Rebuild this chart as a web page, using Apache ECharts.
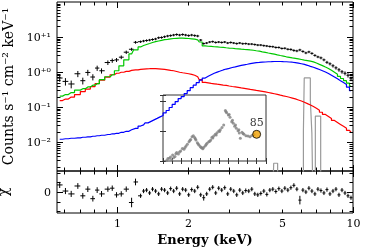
<!DOCTYPE html>
<html><head><meta charset="utf-8">
<script src="https://cdn.jsdelivr.net/npm/echarts@6/dist/echarts.min.js"></script>
<style>html,body{margin:0;padding:0;background:#fff}#c{width:366px;height:251px}</style>
</head><body><div id="c"></div>
<script>
// ---------- data (keV, counts s^-1 cm^-2 keV^-1) ----------
const energy = [0.575,0.608,0.643,0.686,0.720,0.756,0.794,0.828,0.864,0.919,0.959,1.000,1.047,1.099,1.158,1.203,
 1.264,1.301,1.340,1.380,1.420,1.463,1.507,1.551,1.597,1.645,
 1.694,1.744,1.796,1.849,1.904,1.961,2.019,2.079,2.141,2.204,
 2.270,2.337,2.406,2.478,2.551,2.627,2.705,2.785,2.868,2.953,
 3.041,3.131,3.224,3.320,3.418,3.520,3.624,3.733,3.844,3.958,
 4.076,4.197,4.321,4.450,4.581,4.718,4.858,5.003,5.151,5.304,
 5.462,5.623,5.791,5.962,6.140,6.322,6.511,6.704,6.902,7.107,
 7.319,7.536,7.760,7.990,8.229,8.472,8.724,8.983,9.250,9.524,9.806];
const counts = [0.676,0.542,0.457,0.895,0.567,0.975,0.722,1.30,1.09,1.87,2.13,2.23,2.66,3.69,4.48,7.08,
 7.36,7.70,7.95,8.20,8.50,8.80,9.55,9.70,10.2,10.7,
 11.0,11.4,11.8,11.4,11.8,11.4,11.0,11.4,11.0,10.7,
 8.2,6.5,6.75,7.2,7.4,7.0,7.2,7.0,7.2,6.75,
 7.0,6.75,6.5,6.75,6.45,6.5,6.3,6.3,6.1,5.9,
 5.9,5.68,5.55,5.37,5.3,5.04,5.04,4.72,4.78,4.48,
 4.42,4.14,4.01,4.28,3.88,3.52,3.76,3.41,2.99,2.71,
 2.54,2.23,1.90,1.72,1.51,1.32,1.16,1.02,0.925,0.81,0.646];
const countErr = [0.22,0.24,0.25,0.20,0.22,0.19,0.20,0.17,0.17,0.15,0.14,0.13,0.12,0.11,0.10,0.09,
 0.08,0.08,0.08,0.08,0.08,0.08,0.08,0.08,0.08,0.08,
 0.08,0.08,0.08,0.08,0.08,0.08,0.08,0.08,0.08,0.08,
 0.07,0.07,0.07,0.07,0.07,0.07,0.07,0.07,0.07,0.07,
 0.07,0.07,0.07,0.07,0.07,0.07,0.07,0.07,0.07,0.07,
 0.07,0.07,0.07,0.07,0.07,0.07,0.07,0.07,0.07,0.07,
 0.08,0.08,0.08,0.08,0.08,0.08,0.08,0.08,0.08,0.08,
 0.09,0.09,0.10,0.10,0.11,0.11,0.12,0.12,0.13,0.14,0.15];
const modelTotal = [0.206,0.228,0.259,0.305,0.336,0.376,0.423,0.466,0.605,0.736,0.839,1.09,1.51,2.23,3.30,4.28,
 5.21,5.74,6.13,6.54,6.98,7.36,7.71,8.07,8.39,8.61,
 8.89,9.07,9.19,9.25,9.25,9.19,9.07,8.89,8.67,8.33,
 7.21,5.56,5.45,5.38,5.28,5.21,5.11,5.04,4.94,4.85,
 4.79,4.69,4.60,4.51,4.43,4.37,4.28,4.20,4.06,3.94,
 3.78,3.64,3.50,3.37,3.24,3.09,2.97,2.86,2.73,2.64,
 2.54,2.46,2.37,2.28,2.19,2.12,2.05,1.96,1.81,1.66,
 1.53,1.39,1.27,1.12,0.987,0.867,0.755,0.655,0.567,0.482,0.396];
const modelSoft = [0.154,0.170,0.193,0.228,0.277,0.326,0.383,0.466,0.586,0.713,0.839,0.925,0.987,1.05,1.12,1.16,
 1.20,1.22,1.24,1.25,1.26,1.26,1.24,1.22,1.20,1.16,
 1.12,1.09,1.04,0.987,0.955,0.925,0.895,0.855,0.812,0.736,
 0.605,0.507,0.491,0.475,0.463,0.451,0.440,0.426,0.415,0.401,
 0.388,0.376,0.364,0.352,0.341,0.330,0.319,0.309,0.299,0.290,
 0.281,0.271,0.261,0.251,0.241,0.231,0.220,0.210,0.201,0.191,
 0.181,0.171,0.160,0.149,0.138,0.126,0.115,0.104,0.0925,0.0817,
 0.0712,0.0617,0.0542,0.0476,0.0417,0.0366,0.0321,0.0282,0.0248,0.0217,0.0191];
const modelHard = [0.0121,0.0125,0.0129,0.0133,0.0138,0.0141,0.0147,0.0152,0.0157,0.0165,0.0173,0.0179,0.0191,0.0204,0.0225,0.0248,
 0.0288,0.0311,0.0355,0.0391,0.0431,0.0476,0.0525,0.0578,0.0681,0.0801,
 0.0975,0.119,0.144,0.175,0.200,0.243,0.295,0.359,0.423,0.498,
 0.586,0.676,0.760,0.839,0.925,1.00,1.07,1.15,1.22,1.28,
 1.35,1.41,1.48,1.55,1.61,1.67,1.74,1.80,1.85,1.88,
 1.92,1.94,1.97,1.98,2.00,2.00,2.00,1.98,1.97,1.94,
 1.91,1.86,1.80,1.73,1.65,1.56,1.46,1.37,1.27,1.18,
 1.09,1.00,0.907,0.812,0.722,0.641,0.567,0.504,0.443,0.371,0.295];
const residual = [0.74,0.1,-0.2,0.63,-0.4,0.3,-0.7,0.2,-0.2,0.3,0.4,-0.3,-0.2,0.3,-1.1,1.05,
 -0.4,0.1,0.2,-0.1,0.3,0.1,-0.2,0.3,0.2,-0.1,
 0.35,0.1,0.4,-0.2,0.3,0.2,-0.3,0.25,0.1,0.5,
 -0.3,-0.6,-0.2,0.3,0.5,-0.1,0.4,0.2,0.45,-0.2,
 0.3,0.1,-0.3,0.2,-0.1,0.15,0.1,0.3,-0.2,-0.3,
 -0.15,0.1,-0.25,0.2,0.3,0.05,0.35,0.1,0.4,0.2,
 0.45,0.7,0.3,-0.85,0.2,0.0,0.4,0.1,-0.2,0.3,
 0.15,-0.1,0.25,-0.2,0.1,0.3,-0.3,0.2,-0.1,-0.4,-0.6];
const residualErr = [0.32,0.32,0.32,0.30,0.30,0.30,0.30,0.30,0.30,0.28,0.28,0.28,0.28,0.28,0.50,0.35,
 0.22,0.22,0.22,0.22,0.22,0.22,0.22,0.22,0.22,0.22,
 0.22,0.22,0.22,0.22,0.22,0.22,0.22,0.22,0.22,0.22,
 0.22,0.30,0.22,0.22,0.22,0.22,0.22,0.22,0.22,0.22,
 0.22,0.22,0.22,0.22,0.22,0.22,0.22,0.22,0.22,0.22,
 0.22,0.22,0.22,0.22,0.22,0.22,0.22,0.22,0.22,0.22,
 0.22,0.22,0.22,0.45,0.22,0.22,0.22,0.22,0.22,0.22,
 0.22,0.22,0.22,0.22,0.22,0.22,0.22,0.22,0.22,0.22,0.22];
// iron-line component (bin start energy, value)
const lineEnergy = [4.00,4.55,4.62,4.80,6.05,6.17,6.22,6.60,6.70,6.78,6.93,7.30,7.60];
const lineValue  = [1e-4,1e-4,0.0025,1e-4,1e-4,0.021,0.68,0.16,0.018,1e-4,0.055,1e-4,1e-4];
// inset light curve
const insetX = [3.9,5.2,6.8,8.0,9.3,10.3,11.5,12.8,13.7,14.6,16.4,17.6,18.9,20.7,22.4,23.5,24.6,26.0,27.8,28.7,
 29.6,31.0,32.4,33.8,34.5,35.2,36.7,37.5,38.4,39.8,40.7,41.7,42.6,43.5,45.2,46.1,47.0,48.8,49.9,51.0,
 52.3,53.2,54.1,55.9,56.8,57.7,59.5,60.4,61.2,63.0,64.8,66.6,67.3,68.0,69.8,70.7,71.6,73.4,74.2,75.1,
 76.5,77.4,78.3,80.1,81.0,81.5,82.6,84.4,85.5,86.5,88.6,90.8,92.9,95.0,97.2];
const insetY = [0.02,0.08,0.09,0.13,0.04,0.20,0.12,0.15,0.24,0.28,0.23,0.30,0.33,0.42,0.39,0.45,0.50,0.56,0.64,0.68,
 0.72,0.81,0.84,0.78,0.74,0.70,0.61,0.57,0.53,0.48,0.45,0.43,0.41,0.46,0.51,0.55,0.59,0.64,0.66,0.70,
 0.79,0.77,0.83,0.89,0.87,0.94,1.00,0.98,1.04,1.12,1.20,1.68,1.64,1.61,1.53,1.55,1.46,1.31,1.36,1.26,
 1.16,1.20,1.09,1.01,1.04,0.93,0.76,0.96,0.92,0.89,0.84,0.83,0.81,0.85,0.88];
const insetCurrent = [100.0, 0.89];
const insetCurrentLabel = '85';
// ticks & labels
const xMajorTicks = [1, 10];
const xMinorTicks = [0.6,0.7,0.8,0.9,2,3,4,5,6,7,8,9];
const xTickLabels = [[1,'1'],[2,'2'],[5,'5'],[10,'10']];
const yMajorTicks = [0.01,0.1,1,10];
const yMinorTicks = [0.002,0.003,0.004,0.005,0.006,0.007,0.008,0.009,
 0.02,0.03,0.04,0.05,0.06,0.07,0.08,0.09,0.2,0.3,0.4,0.5,0.6,0.7,0.8,0.9,
 2,3,4,5,6,7,8,9,20,30,40,50,60,70,80,90];
const yTickLabels = [[0.01,'10⁻²'],[0.1,'10⁻¹'],[1,'10⁺⁰'],[10,'10⁺¹']];
const rMajorTicks = [0];
const rMinorTicks = [-2,-1,1,2];
const rTickLabels = [[0,'0']];

// ---------- chart ----------
const FONT = '"DejaVu Serif", "Liberation Serif", serif';
const chart = echarts.init(document.getElementById('c'), null, {renderer:'canvas'});

function binEdges(i){
  const e = energy[i];
  const hi = i < energy.length-1 ? Math.sqrt(e*energy[i+1]) : e*e/Math.sqrt(e*energy[i-1]);
  const lo = i > 0 ? Math.sqrt(e*energy[i-1]) : e*e/Math.sqrt(e*energy[i+1]);
  return [lo, hi];
}
const crossData = energy.map((e,i)=>{const b=binEdges(i);const v=counts[i],f=countErr[i];return [e,v,v*(1-f),v*(1+f),b[0],b[1]];});
const resData = energy.map((e,i)=>{const b=binEdges(i);const r=residual[i],s=residualErr[i];return [e,r,r-s,r+s,b[0],b[1]];});

function crossRender(params, api){
  const e=api.value(0), v=api.value(1);
  const c=api.coord([e,v]), lo=api.coord([e,api.value(2)]), hi=api.coord([e,api.value(3)]);
  const l=api.coord([api.value(4),v]), r=api.coord([api.value(5),v]);
  const st={stroke:'#000',lineWidth:1};
  return {type:'group',children:[
    {type:'line',shape:{x1:l[0],y1:c[1],x2:r[0],y2:c[1]},style:st},
    {type:'line',shape:{x1:c[0],y1:lo[1],x2:c[0],y2:hi[1]},style:st}]};
}
function txt(x,y,t,align,size,weight){
  return {type:'text',x:x,y:y,style:{text:t,fill:'#000',font:(weight||'normal')+' '+size+'px '+FONT,
    align:align,textAlign:align,verticalAlign:'middle',textVerticalAlign:'middle'}};
}
function decor(yRef, yMaj, yMin, yLab, withXLabels){
  return function(params, api){
    const R=params.coordSys, L0=R.x, R0=R.x+R.width, T=R.y, B=R.y+R.height;
    const ch=[]; const st={stroke:'#000',lineWidth:1};
    const seg=(x1,y1,x2,y2)=>ch.push({type:'line',shape:{x1,y1,x2,y2},style:st});
    const px=v=>Math.round(api.coord([v,yRef])[0])+0.5;
    const py=v=>Math.round(api.coord([1,v])[1])+0.5;
    xMajorTicks.forEach(v=>{const x=px(v); seg(x,B,x,B-6); seg(x,T,x,T+6);});
    xMinorTicks.forEach(v=>{const x=px(v); seg(x,B,x,B-3.5); seg(x,T,x,T+3.5);});
    yMaj.forEach(v=>{const y=py(v); seg(L0,y,L0+6,y); seg(R0,y,R0-6,y);});
    yMin.forEach(v=>{const y=py(v); if(y>T+1&&y<B-1){seg(L0,y,L0+3.5,y); seg(R0,y,R0-3.5,y);}});
    yLab.forEach(p=>{ch.push(txt(L0-6,py(p[0])+1,p[1],'right',11));});
    if(withXLabels) xTickLabels.forEach(p=>{ch.push(txt(px(p[0]),B+11,p[1],'center',11));});
    return {type:'group',children:ch};
  };
}
const hiddenAx={axisLine:{show:false},axisTick:{show:false},axisLabel:{show:false},splitLine:{show:false}};
const insetAx={axisLine:{show:false},axisTick:{show:true,inside:true,length:3,lineStyle:{color:'#333',width:1}},axisLabel:{show:false},splitLine:{show:false}};
const stepLine=(data,color,z)=>({type:'line',xAxisIndex:0,yAxisIndex:0,data:data,step:'middle',showSymbol:false,
  lineStyle:{color:color,width:1.2},itemStyle:{color:color},z:z,silent:true,clip:true});

chart.setOption({
  animation:false,
  grid:[
    {left:57,top:2,width:296,height:169,show:true,borderColor:'#000',borderWidth:1,backgroundColor:'transparent',outerBoundsMode:'none',containLabel:false},
    {left:57,top:171,width:296,height:42,show:true,borderColor:'#000',borderWidth:1,backgroundColor:'transparent',outerBoundsMode:'none',containLabel:false},
    {left:163,top:95,width:103,height:66,show:true,borderColor:'#333',borderWidth:1,backgroundColor:'transparent',outerBoundsMode:'none',containLabel:false}
  ],
  xAxis:[
    Object.assign({gridIndex:0,type:'log',logBase:10,min:0.56,max:10},hiddenAx),
    Object.assign({gridIndex:1,type:'log',logBase:10,min:0.56,max:10,name:'Energy (keV)',nameLocation:'middle',nameGap:21,
      nameTextStyle:{fontFamily:FONT,fontWeight:'bold',fontSize:13,color:'#000'}},hiddenAx),
    Object.assign({gridIndex:2,type:'value',min:0,max:110,interval:10,position:'bottom'},insetAx),
    Object.assign({gridIndex:2,type:'value',min:0,max:110,interval:10,position:'top'},insetAx)
  ],
  yAxis:[
    Object.assign({gridIndex:0,type:'log',logBase:10,min:0.0015,max:100,name:'Counts s⁻¹ cm⁻² keV⁻¹',nameLocation:'middle',nameRotate:90,nameGap:41,
      nameTextStyle:{fontFamily:FONT,fontSize:14,color:'#000'}},hiddenAx),
    Object.assign({gridIndex:1,type:'value',min:-2.2,max:2.2,name:'χ',nameLocation:'middle',nameRotate:90,nameGap:46,
      nameTextStyle:{fontFamily:FONT,fontSize:14,color:'#000'}},hiddenAx),
    Object.assign({gridIndex:2,type:'value',min:0,max:2.2,interval:1,position:'left'},insetAx),
    Object.assign({gridIndex:2,type:'value',min:0,max:2.2,interval:1,position:'right'},insetAx)
  ],
  series:[
    {type:'line',xAxisIndex:0,yAxisIndex:0,data:lineEnergy.map((e,i)=>[e,lineValue[i]]),step:'end',showSymbol:false,
      lineStyle:{color:'#9a9a9a',width:1.2},z:1,silent:true,clip:true},
    stepLine(energy.map((e,i)=>[e,modelSoft[i]]),'#ff0000',2),
    stepLine(energy.map((e,i)=>[e,modelHard[i]]),'#0000ff',2),
    stepLine(energy.map((e,i)=>[e,modelTotal[i]]),'#00c800',3),
    {type:'custom',xAxisIndex:0,yAxisIndex:0,data:crossData,renderItem:crossRender,z:4,silent:true,clip:true},
    {type:'custom',xAxisIndex:0,yAxisIndex:0,data:[[1,1]],renderItem:decor(1,yMajorTicks,yMinorTicks,yTickLabels,false),z:6,silent:true},
    {type:'custom',xAxisIndex:1,yAxisIndex:1,data:resData,renderItem:crossRender,z:4,silent:true,clip:true},
    {type:'custom',xAxisIndex:1,yAxisIndex:1,data:[[1,0]],renderItem:decor(0,rMajorTicks,rMinorTicks,rTickLabels,true),z:6,silent:true},
    {type:'scatter',xAxisIndex:2,yAxisIndex:2,data:insetX.map((x,i)=>[x,insetY[i]]),symbol:'circle',symbolSize:3,
      itemStyle:{color:'#808080'},z:7,silent:true},
    {type:'scatter',xAxisIndex:2,yAxisIndex:2,data:[insetCurrent],symbol:'circle',symbolSize:8,
      itemStyle:{color:'#f0a000',borderColor:'#000',borderWidth:1},
      label:{show:true,position:'top',distance:1,formatter:insetCurrentLabel,fontFamily:FONT,fontSize:11,color:'#000'},z:8,silent:true}
  ]
});
</script></body></html>
